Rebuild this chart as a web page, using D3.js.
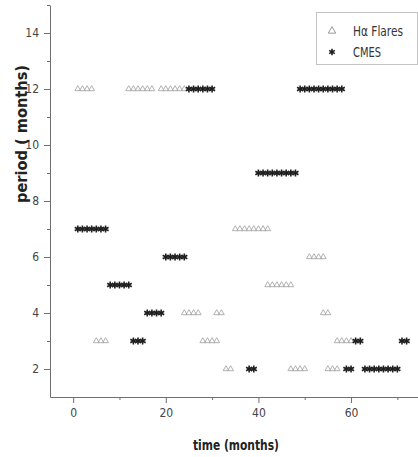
<!DOCTYPE html>
<html>
<head>
<meta charset="utf-8">
<script src="https://cdn.jsdelivr.net/npm/d3@7"></script>
<style>
  body { margin: 0; background: #fff; }
  svg { display: block; font-family: "DejaVu Sans Condensed", "Liberation Sans", sans-serif; }
</style>
</head>
<body>
<div id="chart"></div>
<script>
// H-alpha flares: month / period pairs
const flareMonths  = [1, 2, 3, 4, 12, 13, 14, 15, 16, 17, 19, 20, 21, 22, 23, 24,
                      5, 6, 7, 28, 29, 30, 31, 57, 58, 59, 60,
                      24, 25, 26, 27, 31, 32, 54, 55,
                      33, 34, 47, 48, 49, 50, 55, 56, 57,
                      35, 36, 37, 38, 39, 40, 41, 42,
                      42, 43, 44, 45, 46, 47,
                      51, 52, 53, 54];
const flarePeriods = [12, 12, 12, 12, 12, 12, 12, 12, 12, 12, 12, 12, 12, 12, 12, 12,
                      3, 3, 3, 3, 3, 3, 3, 3, 3, 3, 3,
                      4, 4, 4, 4, 4, 4, 4, 4,
                      2, 2, 2, 2, 2, 2, 2, 2, 2,
                      7, 7, 7, 7, 7, 7, 7, 7,
                      5, 5, 5, 5, 5, 5,
                      6, 6, 6, 6];

// CMEs: month / period pairs
const cmeMonths  = [1, 2, 3, 4, 5, 6, 7,
                    8, 9, 10, 11, 12,
                    13, 14, 15,
                    16, 17, 18, 19,
                    20, 21, 22, 23, 24,
                    25, 26, 27, 28, 29, 30,
                    38, 39,
                    40, 41, 42, 43, 44, 45, 46, 47, 48,
                    49, 50, 51, 52, 53, 54, 55, 56, 57, 58,
                    59, 60,
                    61, 62,
                    63, 64, 65, 66, 67, 68, 69, 70,
                    71, 72];
const cmePeriods = [7, 7, 7, 7, 7, 7, 7,
                    5, 5, 5, 5, 5,
                    3, 3, 3,
                    4, 4, 4, 4,
                    6, 6, 6, 6, 6,
                    12, 12, 12, 12, 12, 12,
                    2, 2,
                    9, 9, 9, 9, 9, 9, 9, 9, 9,
                    12, 12, 12, 12, 12, 12, 12, 12, 12, 12,
                    2, 2,
                    3, 3,
                    2, 2, 2, 2, 2, 2, 2, 2,
                    3, 3];

const xMajor = [0, 20, 40, 60];
const xMinor = [10, 30, 50, 70];
const yMajor = [2, 4, 6, 8, 10, 12, 14];
const yMinor = [3, 5, 7, 9, 11, 13, 15];
const legendLabels = ["H\u03b1 Flares", "CMES"];

const width = 418, height = 457;

const svg = d3.select("#chart").append("svg")
  .attr("width", width)
  .attr("height", height);

const x = d3.scaleLinear().domain([-5, 75]).range([50, 420.5]);
const y = d3.scaleLinear().domain([1, 15]).range([397, 5]);

const axisColor = "#6f6f6f";

// minor ticks first
svg.append("g")
  .attr("transform", "translate(0,397)")
  .call(d3.axisBottom(x).tickValues(xMinor).tickSize(3).tickFormat(""))
  .call(g => g.select(".domain").remove());
svg.append("g")
  .attr("transform", "translate(50,0)")
  .call(d3.axisLeft(y).tickValues(yMinor).tickSize(3).tickFormat(""))
  .call(g => g.select(".domain").remove());

const xAxis = svg.append("g")
  .attr("transform", "translate(0,397)")
  .call(d3.axisBottom(x).tickValues(xMajor).tickSize(6).tickSizeOuter(0).tickPadding(5));
const yAxis = svg.append("g")
  .attr("transform", "translate(50,0)")
  .call(d3.axisLeft(y).tickValues(yMajor).tickSize(6).tickSizeOuter(0).tickPadding(5));

svg.selectAll(".domain, .tick line").attr("stroke", axisColor);
[xAxis, yAxis].forEach(a => a.selectAll("text")
  .attr("font-size", 12)
  .attr("fill", "#444")
  .attr("font-family", "DejaVu Sans Condensed, Liberation Sans, sans-serif"));

// axis titles
svg.append("text")
  .attr("x", 193)
  .attr("y", 450)
  .attr("font-size", 14)
  .attr("font-weight", "bold")
  .attr("fill", "#222")
  .attr("textLength", 86)
  .attr("lengthAdjust", "spacingAndGlyphs")
  .text("time (months)");

svg.append("text")
  .attr("transform", "translate(27,203) rotate(-90)")
  .attr("font-size", 15)
  .attr("font-weight", "bold")
  .attr("fill", "#222")
  .attr("textLength", 138)
  .attr("lengthAdjust", "spacingAndGlyphs")
  .text("period ( months)");

// marks
const tri = d3.symbol(d3.symbolTriangle2, 24);
const star = d3.symbol(d3.symbolAsterisk, 34);

svg.append("g").selectAll("path")
  .data(flareMonths.map((m, i) => [m, flarePeriods[i]]))
  .join("path")
  .attr("d", tri)
  .attr("transform", d => `translate(${x(d[0])},${y(d[1])})`)
  .attr("fill", "none")
  .attr("stroke", "#a8a8a8")
  .attr("stroke-width", 0.9);

svg.append("g").selectAll("path")
  .data(cmeMonths.map((m, i) => [m, cmePeriods[i]]))
  .join("path")
  .attr("d", star)
  .attr("transform", d => `translate(${x(d[0])},${y(d[1])})`)
  .attr("fill", "none")
  .attr("stroke", "#1e1e1e")
  .attr("stroke-width", 1.6);

// legend
const lg = svg.append("g");
lg.append("rect")
  .attr("x", 316.5).attr("y", 12.5)
  .attr("width", 101).attr("height", 52)
  .attr("fill", "#fff")
  .attr("stroke", "#888")
  .attr("stroke-dasharray", "1,1");

lg.append("path")
  .attr("d", d3.symbol(d3.symbolTriangle2, 40))
  .attr("transform", "translate(332,31)")
  .attr("fill", "none")
  .attr("stroke", "#999");
lg.append("path")
  .attr("d", d3.symbol(d3.symbolAsterisk, 30))
  .attr("transform", "translate(332,52)")
  .attr("fill", "none")
  .attr("stroke", "#1e1e1e")
  .attr("stroke-width", 1.6);

lg.selectAll("text")
  .data(legendLabels)
  .join("text")
  .attr("x", 353)
  .attr("y", (d, i) => 36 + i * 21)
  .attr("font-size", 14.5)
  .attr("fill", "#333")
  .attr("textLength", (d, i) => i === 0 ? 50 : 28)
  .attr("lengthAdjust", "spacingAndGlyphs")
  .text(d => d);
</script>
</body>
</html>
